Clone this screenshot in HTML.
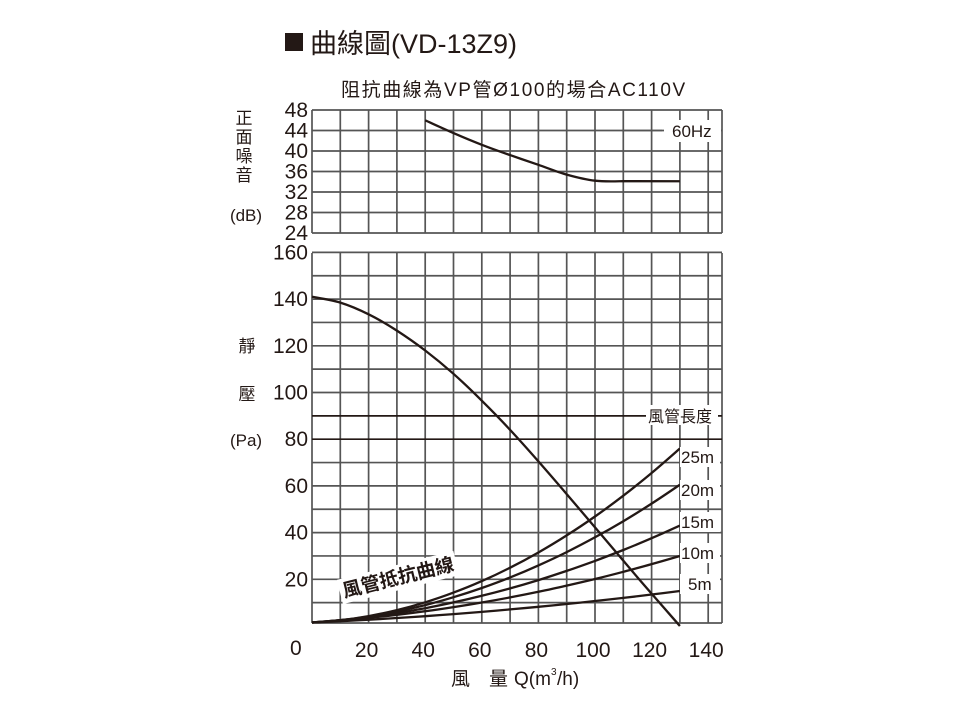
<!DOCTYPE html>
<html><head><meta charset="utf-8">
<style>
html,body{margin:0;padding:0;background:#fff;}
svg{display:block;font-family:"Liberation Sans","Noto Sans CJK TC",sans-serif;}
</style></head><body>
<svg id="s" width="960" height="720" viewBox="0 0 960 720" xmlns="http://www.w3.org/2000/svg">
<rect width="960" height="720" fill="#fff"/>
<rect x="285" y="33" width="18" height="18" fill="#231815"/>
<text x="310" y="53" font-size="27" fill="#231815">曲線圖(VD-13Z9)</text>
<text x="341" y="96" font-size="19" letter-spacing="1.6" fill="#231815">阻抗曲線為VP管Ø100的場合AC110V</text>
<g id="grid" stroke="#555" stroke-width="1.7" fill="none"></g>
<g id="curves" stroke="#231815" stroke-width="2.3" fill="none"></g>
<g id="labels" font-size="16" fill="#231815"></g>
</svg>
<script>
var NS="http://www.w3.org/2000/svg";
function el(p,t,a,txt){var e=document.createElementNS(NS,t);for(var k in a)e.setAttribute(k,a[k]);if(txt!==undefined)e.textContent=txt;document.getElementById(p).appendChild(e);return e;}
var X=function(q){return 312+2.83*q;};
var Yt=function(v){return 110+(48-v)/4*20.5;};
var Yb=function(v){return 626-2.335*v;};
for(var k=0;k<=14;k++){el('grid','line',{x1:X(k*10),y1:110,x2:X(k*10),y2:233});}
el('grid','line',{x1:722,y1:110,x2:722,y2:233});
for(var v=24;v<=48;v+=4){el('grid','line',{x1:312,y1:Yt(v),x2:722,y2:Yt(v)});}
for(var k=0;k<=14;k++){el('grid','line',{x1:X(k*10),y1:253,x2:X(k*10),y2:623});}
el('grid','line',{x1:722,y1:253,x2:722,y2:623});
for(var v=10;v<=160;v+=10){el('grid','line',{x1:312,y1:Yb(v),x2:722,y2:Yb(v),'stroke':(v==80||v==90)?'#231815':'#555'});}
el('grid','line',{x1:312,y1:623,x2:722,y2:623});
el('labels','rect',{x:664,y:120,width:57,height:22,fill:'#fff'});
el('labels','rect',{x:646,y:405,width:72,height:20,fill:'#fff'});
var dl=[['25m',457],['20m',490],['15m',522],['10m',553],['5m',584]];
dl.forEach(function(d){el('labels','rect',{x:680,y:d[1]-10,width:40,height:20,fill:'#fff'});});
function smooth(pts,f){
 var P=pts.map(function(p){return [X(p[0]),f(p[1])];});
 var s='M'+P[0][0].toFixed(1)+' '+P[0][1].toFixed(1);
 for(var i=0;i<P.length-1;i++){
  var p0=P[i-1]||P[i],p1=P[i],p2=P[i+1],p3=P[i+2]||p2;
  var c1=[p1[0]+(p2[0]-p0[0])/6,p1[1]+(p2[1]-p0[1])/6];
  var c2=[p2[0]-(p3[0]-p1[0])/6,p2[1]-(p3[1]-p1[1])/6];
  s+='C'+c1[0].toFixed(1)+' '+c1[1].toFixed(1)+' '+c2[0].toFixed(1)+' '+c2[1].toFixed(1)+' '+p2[0].toFixed(1)+' '+p2[1].toFixed(1);
 }
 return s;
}
el('curves','path',{d:smooth([[40,46],[50,43.5],[60,41.2],[70,39.2],[80,37.3],[90,35.4],[100,34.2],[110,34.1]],Yt)+'L'+X(130)+' '+Yt(34.1)});
el('curves','path',{d:smooth([[0,141],[10,138.5],[20,133.5],[30,126.5],[40,118],[50,108],[60,96.5],[70,84],[80,70.5],[90,56.5],[101.6,40],[115.6,20],[130,0]],Yb)});
[[76,0.1],[60.5,0.15],[43,0.25],[30,0.35],[15,0.5]].forEach(function(c){
 var pts=[];for(var q=0;q<=130;q+=10){var t=q/130;pts.push([q,1.5+(c[0]-1.5)*(c[1]*t+(1-c[1])*t*t)]);}
 el('curves','path',{d:smooth(pts,Yb)});
});
el('labels','line',{x1:622,y1:Yt(44),x2:662,y2:Yt(44),stroke:'#555','stroke-width':1.4});
el('labels','text',{x:672,y:137,'font-size':17},'60Hz');
el('labels','text',{x:648,y:422,'font-size':16},'風管長度');
dl.forEach(function(d){el('labels','text',{x:d[0]=='5m'?688:681,y:d[1]+6,'font-size':17},d[0]);});
var g=el('labels','g',{transform:'translate(398,577) rotate(-14)'});
var r=document.createElementNS(NS,'rect');r.setAttribute('x',-60);r.setAttribute('y',-12);r.setAttribute('width',120);r.setAttribute('height',25);r.setAttribute('fill','#fff');g.appendChild(r);
var t=document.createElementNS(NS,'text');t.setAttribute('x',0);t.setAttribute('y',7);t.setAttribute('text-anchor','middle');t.setAttribute('font-size','19');t.setAttribute('font-weight','bold');t.textContent='風管抵抗曲線';g.appendChild(t);
for(var v=24;v<=48;v+=4){el('labels','text',{x:308,y:Yt(v)+7,'text-anchor':'end','font-size':21},v);}
for(var v=20;v<=160;v+=20){el('labels','text',{x:308,y:Yb(v)+7,'text-anchor':'end','font-size':21},v);}
el('labels','text',{x:290,y:655,'font-size':21},'0');
for(var q=20;q<=140;q+=20){el('labels','text',{x:X(q)-2,y:657,'text-anchor':'middle','font-size':21},q);}
['正','面','噪','音'].forEach(function(c,i){el('labels','text',{x:244,y:124+i*19,'text-anchor':'middle','font-size':17},c);});
el('labels','text',{x:246,y:221,'text-anchor':'middle','font-size':17},'(dB)');
el('labels','text',{x:247,y:352,'text-anchor':'middle','font-size':17},'靜');
el('labels','text',{x:247,y:400,'text-anchor':'middle','font-size':17},'壓');
el('labels','text',{x:246,y:446,'text-anchor':'middle','font-size':17},'(Pa)');
el('labels','text',{x:451,y:685,'font-size':19},'風');
el('labels','text',{x:489,y:685,'font-size':19},'量');
el('labels','text',{x:514,y:685,'font-size':19},'Q(m');
el('labels','text',{x:551,y:675,'font-size':10},'3');
el('labels','text',{x:557,y:685,'font-size':19},'/h)');
</script>
</body></html>
